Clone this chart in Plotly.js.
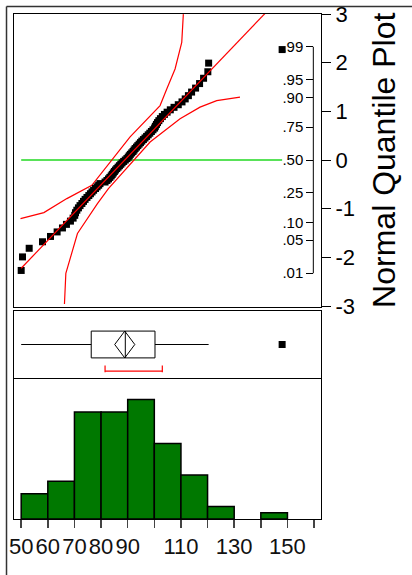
<!DOCTYPE html>
<html>
<head>
<meta charset="utf-8">
<script src="https://cdn.plot.ly/plotly-3.0.1.min.js"></script>
<style>
html,body{margin:0;padding:0;background:#fff;}
#chart{width:412px;height:575px;}
</style>
</head>
<body>
<div id="chart"></div>
<script>
const values = [
  50.0, 50.5, 53.0, 58.0,
  61.0, 63.5, 65.5, 67.0, 68.5, 69.5,
  70.1, 70.4, 70.9, 71.5, 72.1, 72.8, 73.4, 74.0, 74.7, 75.4, 76.0, 76.6, 77.2, 77.9, 78.5, 79.1, 79.6,
  81.5, 82.2, 82.8, 83.3, 83.8, 84.2, 84.6, 85.0, 85.4, 85.9, 86.4, 86.9, 87.4, 87.9, 88.5, 89.1, 89.7,
  90.2, 90.6, 91.0, 91.5, 92.0, 92.4, 92.8, 93.3, 93.8, 94.3, 94.8, 95.3, 95.9, 96.5, 97.1, 97.7, 98.3, 98.9, 99.5,
  100.1, 100.4, 100.8, 101.2, 101.7, 102.3, 103.0, 103.8, 104.8, 106.0, 107.4, 109.0,
  110.4, 111.6, 112.8, 114.0, 115.5, 117.0, 118.5,
  120.1, 120.4,
  148.0
];
// confidence band curves of the quantile plot (value, normal quantile)
const bandUpperX = [49.74, 58.52, 67.15, 76.53, 90.90, 102.16, 104.67, 107.79, 110.30, 110.90];
const bandUpperZ = [-1.203, -1.080, -0.793, -0.520, 0.477, 1.119, 1.461, 1.871, 2.418, 2.998];
const bandLowerX = [66.25, 66.77, 71.13, 78.63, 82.76, 88.39, 98.41, 109.67, 117.17, 123.43, 132.18];
const bandLowerZ = [-2.959, -2.330, -1.510, -0.895, -0.588, -0.246, 0.369, 0.846, 1.086, 1.221, 1.291];
// axis labels
const histTicks = [50, 60, 70, 80, 90, 100, 110, 120, 130, 140, 150, 160];
const histTickText = ['50', '60', '70', '80', '90', '', '110', '', '130', '', '150', ''];
const zTicks = [3, 2, 1, 0, -1, -2, -3];
const zTickText = ['3', '2', '1', '0', '-1', '-2', '-3'];
const probs = [0.01, 0.05, 0.10, 0.25, 0.50, 0.75, 0.90, 0.95, 0.99];
const probText = ['.01', '.05', '.10', '.25', '.50', '.75', '.90', '.95', '.99'];

// ---- statistics ----
function invNorm(p){
  const a=[-3.969683028665376e+01,2.209460984245205e+02,-2.759285104469687e+02,1.383577518672690e+02,-3.066479806614716e+01,2.506628277459239e+00];
  const b=[-5.447609879822406e+01,1.615858368580409e+02,-1.556989798598866e+02,6.680131188771972e+01,-1.328068155288572e+01];
  const c=[-7.784894002430293e-03,-3.223964580411365e-01,-2.400758277161838e+00,-2.549732539343734e+00,4.374664141464968e+00,2.938163982698783e+00];
  const d=[7.784695709041462e-03,3.224671290700398e-01,2.445134137142996e+00,3.754408661907416e+00];
  const pl=0.02425;
  if(p<pl){const q=Math.sqrt(-2*Math.log(p));return (((((c[0]*q+c[1])*q+c[2])*q+c[3])*q+c[4])*q+c[5])/((((d[0]*q+d[1])*q+d[2])*q+d[3])*q+1);}
  if(p>1-pl){const q=Math.sqrt(-2*Math.log(1-p));return -(((((c[0]*q+c[1])*q+c[2])*q+c[3])*q+c[4])*q+c[5])/((((d[0]*q+d[1])*q+d[2])*q+d[3])*q+1);}
  const q=p-0.5,r=q*q;return (((((a[0]*r+a[1])*r+a[2])*r+a[3])*r+a[4])*r+a[5])*q/(((((b[0]*r+b[1])*r+b[2])*r+b[3])*r+b[4])*r+1);
}
const sorted = values.slice().sort((a,b)=>a-b);
const N = sorted.length;
const zq = sorted.map((v,i)=>invNorm((i+1)/(N+1)));
const mean = sorted.reduce((s,v)=>s+v,0)/N;
const sd = Math.sqrt(sorted.reduce((s,v)=>s+(v-mean)*(v-mean),0)/(N-1));
const ci = 1.989*sd/Math.sqrt(N);
const vmin = sorted[0], vmax = sorted[N-1];
// shortest half
const k = Math.ceil(N/2);
let shLo = sorted[0], shHi = sorted[k-1], best = Infinity;
for(let i=0;i+k-1<N;i++){const w=sorted[i+k-1]-sorted[i]; if(w<best){best=w;shLo=sorted[i];shHi=sorted[i+k-1];}}

const FONT = 'Liberation Sans, Arial, sans-serif';
const xr = [47.3, 162.6];

const traces = [
  // histogram
  {type:'histogram', x: values, xaxis:'x', yaxis:'y',
   xbins:{start:50, end:160, size:10}, autobinx:false,
   marker:{color:'#007800', line:{color:'#000', width:1.5}}, hoverinfo:'skip', showlegend:false},
  // box plot
  {type:'box', x: values, y0: 0.5, orientation:'h', xaxis:'x2', yaxis:'y2',
   quartilemethod:'exclusive', boxpoints:'outliers', whiskerwidth:0, width:0.4,
   fillcolor:'#fff', line:{color:'#000', width:1},
   marker:{symbol:'square', size:7, color:'#000'}, hoverinfo:'skip', showlegend:false},
  // means diamond
  {type:'scatter', mode:'lines', xaxis:'x2', yaxis:'y2',
   x:[mean-ci, mean, mean+ci, mean, mean-ci], y:[0.5, 0.7, 0.5, 0.3, 0.5],
   line:{color:'#000', width:1}, hoverinfo:'skip', showlegend:false},
  // shortest half bracket
  {type:'scatter', mode:'lines', xaxis:'x2', yaxis:'y2',
   x:[shLo, shLo, null, shLo, shHi, null, shHi, shHi], y:[0.185, 0.085, null, 0.104, 0.104, null, 0.185, 0.085],
   line:{color:'#ff0000', width:1.2}, hoverinfo:'skip', showlegend:false},
  // quantile plot: reference line at 0
  {type:'scatter', mode:'lines', xaxis:'x3', yaxis:'y3', x:[vmin, vmax], y:[0, 0],
   line:{color:'#22d822', width:1.5}, hoverinfo:'skip', showlegend:false},
  // confidence bands
  {type:'scatter', mode:'lines', xaxis:'x3', yaxis:'y3', x:bandUpperX, y:bandUpperZ,
   line:{color:'#ff0000', width:1.2}, hoverinfo:'skip', showlegend:false},
  {type:'scatter', mode:'lines', xaxis:'x3', yaxis:'y3', x:bandLowerX, y:bandLowerZ,
   line:{color:'#ff0000', width:1.2}, hoverinfo:'skip', showlegend:false},
  // points
  {type:'scatter', mode:'markers', xaxis:'x3', yaxis:'y3', x:sorted, y:zq,
   marker:{symbol:'square', size:7, color:'#000'}, hoverinfo:'skip', showlegend:false},
  // fitted normal line
  {type:'scatter', mode:'lines', xaxis:'x3', yaxis:'y3', x:[vmin, vmax], y:[(vmin-mean)/sd, (vmax-mean)/sd],
   line:{color:'#ff0000', width:1.2}, hoverinfo:'skip', showlegend:false},
  // invisible holder for probability axis
  {type:'scatter', mode:'markers', xaxis:'x3', yaxis:'y4', x:[mean], y:[0],
   marker:{opacity:0}, hoverinfo:'skip', showlegend:false}
];

const probZ = probs.map(invNorm);
const common = {showgrid:false, zeroline:false, fixedrange:true};
const layout = {
  width:412, height:575,
  margin:{l:14, r:91, t:14, b:56},
  paper_bgcolor:'#fff', plot_bgcolor:'#fff',
  font:{family:FONT, color:'#000'},
  bargap:0,
  showlegend:false,
  xaxis:Object.assign({}, common, {domain:[0,1], anchor:'y', range:xr,
    tickmode:'array', tickvals:histTicks, ticktext:histTickText, tickangle:0,
    ticks:'outside', ticklen:8, tickwidth:1.5, tickcolor:'#444',
    tickfont:{size:22, family:FONT, color:'#111'},
    showline:true, mirror:true, linecolor:'#000', linewidth:1}),
  yaxis:Object.assign({}, common, {domain:[0,0.2772], anchor:'x', range:[0,22.25],
    showticklabels:false, ticks:'', showline:true, mirror:true, linecolor:'#000', linewidth:1}),
  xaxis2:Object.assign({}, common, {domain:[0,1], anchor:'y2', matches:'x', range:xr,
    showticklabels:false, ticks:'', showline:true, mirror:true, linecolor:'#000', linewidth:1}),
  yaxis2:Object.assign({}, common, {domain:[0.2792,0.4119], anchor:'x2', range:[0,1],
    showticklabels:false, ticks:'', showline:true, mirror:true, linecolor:'#000', linewidth:1}),
  xaxis3:Object.assign({}, common, {domain:[0,1], anchor:'y3', matches:'x', range:xr,
    showticklabels:false, ticks:'', showline:true, mirror:true, linecolor:'#000', linewidth:1}),
  yaxis3:Object.assign({}, common, {domain:[0.4198,1], anchor:'x3', side:'right', range:[-3.02, 3.0],
    tickmode:'array', tickvals:zTicks, ticktext:zTickText,
    ticks:'outside', ticklen:9, tickwidth:1, tickcolor:'#000',
    tickfont:{size:22, family:FONT, color:'#000'},
    showline:true, mirror:true, linecolor:'#000', linewidth:1}),
  yaxis4:Object.assign({}, common, {overlaying:'y3', anchor:'free', position:0.975, side:'left', range:[-3.02, 3.0],
    tickmode:'array', tickvals:probZ, ticktext:probText,
    ticks:'outside', ticklen:7, tickwidth:1, tickcolor:'#000',
    tickfont:{size:15, family:FONT, color:'#000'}, showline:false}),
  shapes:[
    // probability axis spine
    {type:'line', xref:'paper', yref:'y3', x0:0.975, x1:0.975, y0:probZ[0], y1:probZ[probZ.length-1],
     line:{color:'#000', width:1}},
    // outer frame
    {type:'line', xref:'paper', yref:'paper', x0:-0.0244, x1:1.3, y0:1.0149, y1:1.0149, line:{color:'#333', width:1.5}},
    {type:'line', xref:'paper', yref:'paper', x0:-0.0244, x1:-0.0244, y0:1.0149, y1:-0.12, line:{color:'#333', width:1.5}}
  ],
  annotations:[
    {text:'Normal Quantile Plot', xref:'paper', yref:'paper', x:1.205, y:0.711,
     textangle:-90, showarrow:false, xanchor:'center', yanchor:'middle',
     font:{size:32, family:FONT, color:'#000'}}
  ]
};

Plotly.newPlot('chart', traces, layout, {staticPlot:true, displayModeBar:false});
</script>
</body>
</html>
